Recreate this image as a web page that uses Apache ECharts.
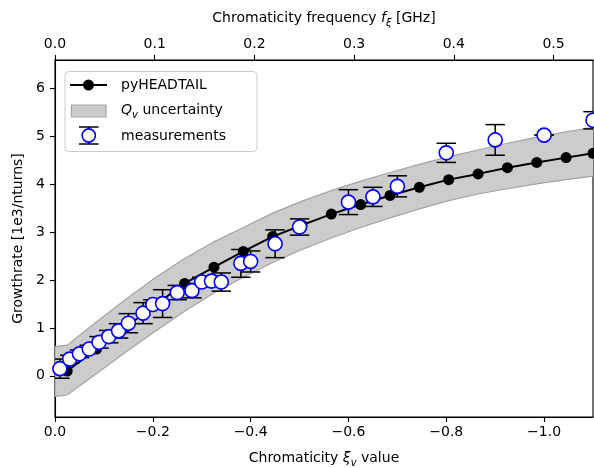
<!DOCTYPE html>
<html><head><meta charset="utf-8">
<script src="https://cdn.jsdelivr.net/npm/echarts@6/dist/echarts.min.js"></script>
<style>html,body{margin:0;padding:0;background:#fff}#c{width:594px;height:468px}</style>
</head><body><div id="c"></div>
<script>
// pyHEADTAIL simulation
const simXi = [-0.025, -0.085, -0.145, -0.205, -0.265, -0.325, -0.385, -0.445, -0.505, -0.565, -0.625, -0.685, -0.745, -0.805, -0.865, -0.925, -0.985, -1.045, -1.1];
const simY  = [0.10, 0.56, 1.02, 1.48, 1.93, 2.27, 2.60, 2.91, 3.15, 3.38, 3.58, 3.77, 3.94, 4.10, 4.22, 4.35, 4.46, 4.56, 4.65];
// Q_v uncertainty band
const bandXi    = [0, -0.025, -0.085, -0.145, -0.205, -0.265, -0.325, -0.385, -0.445, -0.505, -0.565, -0.625, -0.685, -0.745, -0.805, -0.865, -0.925, -0.985, -1.045, -1.105];
const bandUpper = [0.61, 0.64, 1.13, 1.60, 2.05, 2.45, 2.80, 3.10, 3.40, 3.65, 3.87, 4.07, 4.25, 4.42, 4.58, 4.72, 4.86, 4.99, 5.10, 5.20];
const bandLower = [-0.43, -0.40, 0.05, 0.50, 0.93, 1.35, 1.73, 2.06, 2.37, 2.64, 2.88, 3.10, 3.30, 3.49, 3.66, 3.80, 3.91, 4.01, 4.10, 4.18];
// measurements
const measXi  = [-0.01, -0.03, -0.05, -0.07, -0.09, -0.11, -0.13, -0.15, -0.18, -0.20, -0.22, -0.25, -0.28, -0.30, -0.32, -0.34, -0.38, -0.40, -0.45, -0.50, -0.60, -0.65, -0.70, -0.80, -0.90, -1.00, -1.10];
const measY   = [0.15, 0.35, 0.46, 0.56, 0.70, 0.82, 0.94, 1.10, 1.31, 1.49, 1.51, 1.74, 1.78, 1.96, 1.98, 1.96, 2.35, 2.39, 2.76, 3.11, 3.63, 3.74, 3.96, 4.66, 4.93, 5.03, 5.34];
const measErr = [0.20, 0.08, 0.08, 0.08, 0.12, 0.13, 0.15, 0.20, 0.22, 0.10, 0.29, 0.15, 0.15, 0.10, 0.10, 0.19, 0.29, 0.22, 0.29, 0.17, 0.26, 0.20, 0.22, 0.20, 0.32, 0.00, 0.18];
// ticks
const xiTicks = [0, -0.2, -0.4, -0.6, -0.8, -1.0];
const freqTicks = [0, 0.1, 0.2, 0.3, 0.4, 0.5];
const yTicks = [0, 1, 2, 3, 4, 5, 6];

const FONT = 'DejaVu Sans';
const chart = echarts.init(document.getElementById('c'));
const axisLineStyle = {color: '#000', width: 1.1};
const subRich = {
  b: {fontFamily: FONT, fontSize: 14, color: '#000', lineHeight: 20},
  i: {fontFamily: FONT, fontSize: 14, fontStyle: 'italic', color: '#000', lineHeight: 20},
  s: {fontFamily: FONT, fontSize: 10, fontStyle: 'italic', color: '#000', lineHeight: 13, verticalAlign: 'bottom'}
};

const bandData = bandXi.map((x, i) => [x, bandLower[i], bandUpper[i]]);

chart.setOption({
  animation: false,
  backgroundColor: '#fff',
  grid: {left: 55, right: 1, top: 60, bottom: 51, show: true, borderColor: '#000', borderWidth: 1.1,
    containLabel: false, outerBoundsMode: 'none'},
  xAxis: [{
    type: 'value', min: -1.1, max: 0, inverse: true, position: 'bottom',
    axisLine: {show: true, onZero: false, lineStyle: axisLineStyle},
    axisTick: {show: true, customValues: xiTicks, length: 5, lineStyle: axisLineStyle},
    axisLabel: {customValues: xiTicks, color: '#000', fontFamily: FONT, fontSize: 14, margin: 8,
      formatter: v => Math.abs(v) < 1e-9 ? '0.0' : '\u2212' + Math.abs(v).toFixed(1)},
    splitLine: {show: false},
    name: '{b|Chromaticity }{i|ξ}{s|v}{b| value}', nameLocation: 'middle', nameGap: 31,
    nameTextStyle: {rich: subRich}
  }, {
    type: 'value', min: 0, max: 0.5396, position: 'top',
    axisLine: {show: true, onZero: false, lineStyle: axisLineStyle},
    axisTick: {show: true, customValues: freqTicks, length: 5, lineStyle: axisLineStyle},
    axisLabel: {customValues: freqTicks, color: '#000', fontFamily: FONT, fontSize: 14, margin: 9, formatter: v => v.toFixed(1)},
    splitLine: {show: false},
    name: '{b|Chromaticity frequency }{i|f}{s|ξ}{b| [GHz]}', nameLocation: 'middle', nameGap: 32,
    nameTextStyle: {rich: subRich}
  }],
  yAxis: {
    type: 'value', min: -0.86, max: 6.6,
    axisLine: {show: true, onZero: false, lineStyle: axisLineStyle},
    axisTick: {show: true, customValues: yTicks, length: 5, lineStyle: axisLineStyle},
    axisLabel: {customValues: yTicks, color: '#000', fontFamily: FONT, fontSize: 14, margin: 10, formatter: v => String(v)},
    splitLine: {show: false},
    name: 'Growthrate [1e3/nturns]', nameLocation: 'middle', nameGap: 29,
    nameTextStyle: {fontFamily: FONT, fontSize: 14, color: '#000'}
  },
  series: [{
    type: 'custom', name: 'band', xAxisIndex: 0, z: 1, clip: true,
    data: bandData,
    renderItem: (params, api) => {
      if (params.dataIndex !== 0) return null;
      const up = bandData.map(d => api.coord([d[0], d[2]]));
      const lo = bandData.map(d => api.coord([d[0], d[1]])).reverse();
      return {type: 'polygon', shape: {points: up.concat(lo)},
        style: {fill: '#cccccc', stroke: '#a3a3a3', lineWidth: 1.2}};
    }
  }, {
    type: 'line', name: 'pyHEADTAIL', xAxisIndex: 0, z: 3, clip: true,
    data: simXi.map((x, i) => [x, simY[i]]),
    symbol: 'circle', symbolSize: 11, showAllSymbol: true,
    itemStyle: {color: '#000'}, lineStyle: {color: '#000', width: 2}
  }, {
    type: 'custom', name: 'errorbars', xAxisIndex: 0, z: 4, clip: true,
    data: measXi.map((x, i) => [x, measY[i] - measErr[i], measY[i] + measErr[i]]),
    renderItem: (params, api) => {
      const lo = api.coord([api.value(0), api.value(1)]);
      const hi = api.coord([api.value(0), api.value(2)]);
      const w = 9.7;
      const st = {stroke: '#000', lineWidth: 1.5};
      return {type: 'group', children: [
        {type: 'line', shape: {x1: lo[0], y1: lo[1], x2: hi[0], y2: hi[1]}, style: st},
        {type: 'line', shape: {x1: lo[0] - w, y1: lo[1], x2: lo[0] + w, y2: lo[1]}, style: st},
        {type: 'line', shape: {x1: hi[0] - w, y1: hi[1], x2: hi[0] + w, y2: hi[1]}, style: st}
      ]};
    }
  }, {
    type: 'scatter', name: 'measurements', xAxisIndex: 0, z: 5, clip: true,
    data: measXi.map((x, i) => [x, measY[i]]),
    symbol: 'circle', symbolSize: 14,
    itemStyle: {color: '#fff', borderColor: '#0000ff', borderWidth: 1.6, opacity: 1}
  }],
  graphic: [
    {type: 'rect', z: 100, shape: {x: 65, y: 71.5, width: 192, height: 80, r: 4},
      style: {fill: 'rgba(255,255,255,0.8)', stroke: '#cccccc', lineWidth: 1}},
    {type: 'line', z: 101, shape: {x1: 70, y1: 85, x2: 107, y2: 85}, style: {stroke: '#000', lineWidth: 2}},
    {type: 'circle', z: 101, shape: {cx: 88.5, cy: 85, r: 5.5}, style: {fill: '#000'}},
    {type: 'text', z: 101, x: 121, y: 85, style: {text: 'pyHEADTAIL', font: '14px "DejaVu Sans"', fill: '#000', verticalAlign: 'middle'}},
    {type: 'rect', z: 101, shape: {x: 71.5, y: 105, width: 34.5, height: 12}, style: {fill: '#cccccc', stroke: '#a3a3a3', lineWidth: 1.2}},
    {type: 'text', z: 101, x: 121, y: 110.5, style: {text: '{i|Q}{s|v}{b| uncertainty}', rich: subRich, verticalAlign: 'middle'}},
    {type: 'line', z: 101, shape: {x1: 79, y1: 127, x2: 98.5, y2: 127}, style: {stroke: '#000', lineWidth: 1.5}},
    {type: 'line', z: 101, shape: {x1: 79, y1: 144, x2: 98.5, y2: 144}, style: {stroke: '#000', lineWidth: 1.5}},
    {type: 'line', z: 101, shape: {x1: 88.75, y1: 127, x2: 88.75, y2: 144}, style: {stroke: '#000', lineWidth: 1.5}},
    {type: 'circle', z: 102, shape: {cx: 88.75, cy: 135.5, r: 6.6}, style: {fill: '#fff', stroke: '#0000ff', lineWidth: 1.6}},
    {type: 'text', z: 101, x: 121, y: 136, style: {text: 'measurements', font: '14px "DejaVu Sans"', fill: '#000', verticalAlign: 'middle'}}
  ]
});
</script></body></html>
